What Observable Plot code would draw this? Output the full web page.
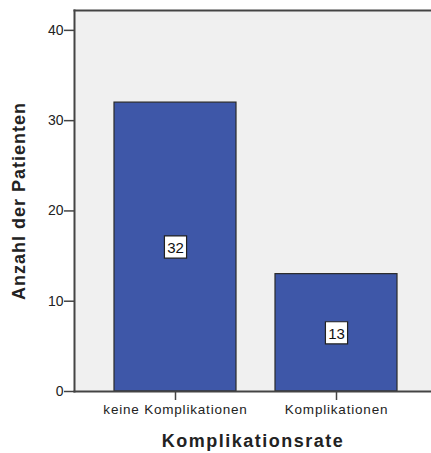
<!DOCTYPE html>
<html>
<head>
<meta charset="utf-8">
<script src="https://cdn.jsdelivr.net/npm/d3@7"></script>
<script src="https://cdn.jsdelivr.net/npm/@observablehq/plot@0.6"></script>
<style>
  html, body { margin: 0; padding: 0; background: #fff; overflow: hidden; }
  #chart svg { display: block; }
</style>
</head>
<body>
<div id="chart"></div>
<script>
// Patientenzahlen nach Komplikationsrate
const categories = ["keine Komplikationen", "Komplikationen"];
const counts = [32, 13];
const yTicks = [0, 10, 20, 30, 40];

const data = categories.map((c, i) => ({category: c, count: counts[i]}));

const fontFamily = "'Liberation Sans', Arial, sans-serif";
const lineColor = "#444";

const chart = Plot.plot({
  width: 431,
  height: 453,
  marginLeft: 74,
  marginRight: 0,
  marginTop: 10,
  marginBottom: 62,
  style: {fontFamily, fontSize: "13px", color: "#222", background: "#fff"},
  x: {
    domain: categories,
    range: [74, 436],
    paddingInner: 0.245,
    paddingOuter: 0.245,
    label: null
  },
  y: {domain: [0, 42.2], label: null},
  marks: [
    Plot.frame({fill: "#f0f0f0", stroke: null}),
    Plot.barY(data, {
      x: "category",
      y: "count",
      fill: "#3e57a8",
      stroke: "#2a2a2a",
      strokeWidth: 1.2
    }),
    Plot.frame({anchor: "top", stroke: lineColor, strokeWidth: 2}),
    Plot.frame({anchor: "left", stroke: lineColor, strokeWidth: 2}),
    Plot.frame({anchor: "bottom", stroke: lineColor, strokeWidth: 2}),
    Plot.axisY({
      ticks: yTicks,
      tickSize: 10,
      tickPadding: 1,
      stroke: lineColor,
      strokeWidth: 1.5,
      fontSize: 14,
      label: "Anzahl der Patienten",
      labelAnchor: "center",
      labelArrow: "none",
      labelOffset: 62
    }),
    Plot.axisX({
      tickSize: 9,
      tickPadding: 4,
      stroke: lineColor,
      strokeWidth: 1.5,
      fontSize: 13.5,
      label: "Komplikationsrate",
      labelAnchor: "center",
      labelArrow: "none",
      labelOffset: 55
    }),
    Plot.dot(data, {
      x: "category",
      y: d => d.count / 2,
      symbol: "square",
      r: 12.5,
      fill: "white",
      stroke: "#222",
      strokeWidth: 1.2
    }),
    Plot.text(data, {
      x: "category",
      y: d => d.count / 2,
      text: d => String(d.count),
      fontSize: 15,
      fill: "#111",
      dy: 1
    })
  ]
});

// Achsentitel fett, größer und etwas gesperrt
const yl = chart.querySelector("[aria-label='y-axis label'] text");
if (yl) {
  yl.setAttribute("font-weight", "bold");
  yl.setAttribute("font-size", "18");
  yl.setAttribute("letter-spacing", "1");
}
const xl = chart.querySelector("[aria-label='x-axis label'] text");
if (xl) {
  xl.setAttribute("font-weight", "bold");
  xl.setAttribute("font-size", "18");
  xl.setAttribute("letter-spacing", "1.5");
}
// Kategorienbeschriftung leicht gesperrt
chart.querySelectorAll("[aria-label='x-axis tick label'] text").forEach(t => {
  t.setAttribute("letter-spacing", "0.8");
});

document.getElementById("chart").append(chart);
</script>
</body>
</html>
